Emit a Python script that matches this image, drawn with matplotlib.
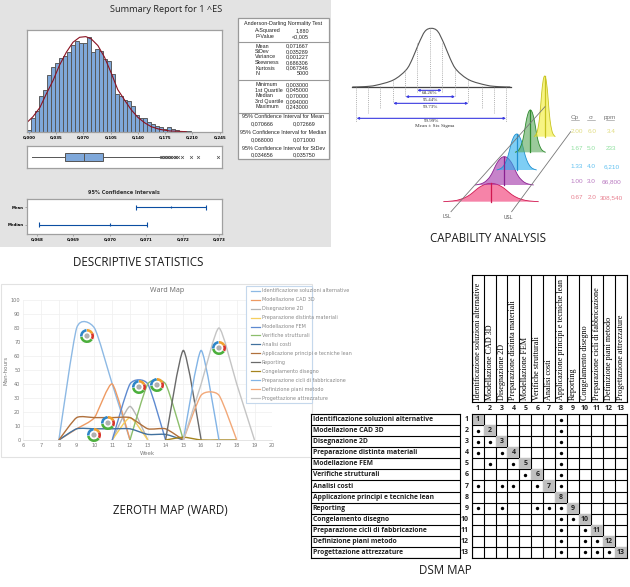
import matplotlib
matplotlib.use("Agg")
import matplotlib.pyplot as plt
import numpy as np
from matplotlib.patches import Rectangle, Wedge, Circle, PathPatch
from matplotlib.path import Path

W = 630
H = 587

# descriptive statistics
hist_counts = [4, 40, 62, 109, 127, 172, 195, 207, 223, 228, 242, 263, 275, 267, 267, 287,
               242, 250, 245, 220, 212, 173, 115, 107, 97, 92, 77, 50, 40, 40, 30, 22, 17,
               13, 7, 13, 7, 4, 3, 1, 3]
hist_bin = 0.00515
fit_x = [-0.003, 0.005, 0.014, 0.022, 0.031, 0.039, 0.048, 0.0565, 0.065, 0.073, 0.080, 0.0885,
         0.097, 0.106, 0.114, 0.123, 0.131, 0.140, 0.1485, 0.157, 0.168, 0.181, 0.202]
fit_y = [27, 45, 73, 113, 155, 200, 240, 270, 285, 287, 280, 260, 225, 175, 127, 95, 67, 43,
         27, 15, 7, 2, 0]
hist_ticks = [0.0, 0.035, 0.07, 0.105, 0.14, 0.175, 0.21, 0.245]
hist_labels = ["0,000", "0,035", "0,070", "0,105", "0,140", "0,175", "0,210", "0,245"]
box_outliers = [0.169, 0.171, 0.173, 0.175, 0.177, 0.179, 0.181, 0.183, 0.185, 0.187, 0.189,
                0.191, 0.197, 0.208, 0.217, 0.243]
ci_names = ["Mean", "Median"]
ci_low = [0.07073, 0.06805]
ci_mid = [0.07169, 0.07000]
ci_high = [0.07265, 0.07103]
ci_ticks = [0.068, 0.069, 0.070, 0.071, 0.072, 0.073]
ci_labels = ["0,068", "0,069", "0,070", "0,071", "0,072", "0,073"]
table_head = ["Anderson-Darling Normality Test"]
table_a = [("A-Squared", "1,880"), ("P-Value", "<0,005")]
table_b = [("Mean", "0,071667"), ("StDev", "0,035289"), ("Variance", "0,001227"),
           ("Skewness", "0,686306"), ("Kurtosis", "0,067346"), ("N", "5000")]
table_c = [("Minimum", "0,003000"), ("1st Quartile", "0,045000"), ("Median", "0,070000"),
           ("3rd Quartile", "0,094000"), ("Maximum", "0,243000")]
table_d = [("95% Confidence Interval for Mean", "0,070666", "0,072669"),
           ("95% Confidence Interval for Median", "0,068000", "0,071000"),
           ("95% Confidence Interval for StDev", "0,034656", "0,035750")]

# capability analysis
sigma_t = [-1.0, -0.85, -0.7, -0.48, -0.32, -0.24, -0.16, -0.08, 0.0, 0.08, 0.16, 0.24,
           0.32, 0.48, 0.7, 0.85, 1.0]
sigma_h = [0.0, 0.006, 0.03, 0.12, 0.29, 0.48, 0.74, 0.95, 1.0, 0.95, 0.74, 0.48, 0.29,
           0.12, 0.03, 0.006, 0.0]
bell_t = [-1.0, -0.8, -0.65, -0.5, -0.38, -0.28, -0.18, -0.09, 0.0, 0.09, 0.18, 0.28, 0.38,
          0.5, 0.65, 0.8, 1.0]
bell_h = [0.0, 0.04, 0.12, 0.28, 0.5, 0.72, 0.88, 0.97, 1.0, 0.97, 0.88, 0.72, 0.5, 0.28, 0.12,
          0.04, 0.0]
cap_centers = [438, 478, 515, 556, 599]
cap_half = [143, 88, 60, 46, 32]
cap_base = [575, 525, 480, 427, 380]
cap_top = [520, 440, 372, 300, 198]
cap_fill = ["#F0306E", "#A030A8", "#28AEEE", "#58A858", "#F2EE30"]
cap_line = ["#D01850", "#8A2090", "#2090D0", "#2E8A2E", "#C8C420"]
cap_text = ["#E88090", "#B878C0", "#60C0F0", "#90E0A0", "#E0DC80"]
cap_rows = [("0.67", "2.0", "308,540"), ("1.00", "3.0", "66,800"), ("1.33", "4.0", "6,210"),
            ("1.67", "5.0", "233"), ("2.00", "6.0", "3.4")]
cap_row_y = [563, 515, 469, 417, 365]
sigma_x = [34, 70, 106, 143, 180, 217, 254, 292, 330, 370, 410, 448, 483]
sigma_end = [335, 310, 295, 280, 262, 245, 231, 245, 262, 280, 295, 310, 335]
sigma_start = [231, 231, 229, 210, 180, 100, 55, 100, 180, 210, 229, 231, 231]
span_lo = [217, 182, 145, 35]
span_hi = [290, 330, 370, 483]
span_y = [241, 260, 280, 325]
span_text = ["68.26%", "95.44%", "99.73%", "99.99%"]
span_text_y = [250, 270, 290, 334]

# ward map
ward_names = ["Identificazione soluzioni alternative", "Modellazione CAD 3D", "Disegnazione 2D",
              "Preparazione distinta materiali", "Modellazione FEM", "Verifiche strutturali",
              "Analisi costi", "Applicazione principi e tecniche lean", "Reporting",
              "Congelamento disegno", "Preparazione cicli di fabbricazione",
              "Definizione piani metodo", "Progettazione attrezzature"]
ward_weeks = [[8, 9, 10, 11, 12], [8, 9, 10, 11, 12], [11, 12, 13], [11, 12, 13],
              [11, 12, 13, 14], [12, 13, 14, 15], [8, 9, 10, 11, 12, 13, 14, 15],
              [8, 9, 10, 11, 12, 13, 14, 15], [14, 15, 16], [14, 15, 16, 17, 18],
              [15, 16, 17], [15, 16, 17, 18], [15, 16, 17, 18, 19]]
ward_hours = [[0, 80, 80, 40, 0], [0, 8, 16, 40, 0], [0, 24, 0], [0, 16, 0],
              [0, 40, 40, 0], [0, 40, 40, 0], [0, 8, 8, 8, 8, 4, 4, 0],
              [0, 16, 16, 16, 16, 8, 8, 0], [0, 64, 0], [0, 2, 0, 0, 0],
              [0, 64, 0], [0, 32, 32, 0], [0, 40, 80, 40, 0]]
ward_colors = ["#8DB9E4", "#EE9A62", "#B4B4B4", "#F6CF5E", "#5E8AD0", "#8CBE6C", "#41719E",
               "#B0703C", "#6A6A6A", "#A5841E", "#82B4E6", "#F2A878", "#C4C4C4"]
icon_x = [87, 139, 157, 108, 94, 219]
icon_y = [336, 387, 385, 423, 435, 348]

# dsm
dsm_dots = [[8], [1, 8], [1, 2, 8], [1, 3, 8], [2, 4, 8], [5, 8], [1, 3, 4, 6, 8], [],
            [1, 3, 6, 7, 8], [8, 9], [8, 10], [8, 10, 11], [8, 10, 11, 12]]


def add_axes(x0, y0, x1, y1, **kw):
    return fig.add_axes([x0 / W, 1 - y1 / H, (x1 - x0) / W, (y1 - y0) / H], **kw)


def frame(ax, color="#A0A0A0", lw=0.9):
    for s in ax.spines.values():
        s.set_color(color)
        s.set_linewidth(lw)


def smooth_path(xs, ys, k=10):
    # same kind of smoothing excel puts on its lines
    pts = np.column_stack([xs, ys]).astype(float)
    verts = [pts[0]]
    codes = [Path.MOVETO]
    for i in range(len(pts) - 1):
        p0 = pts[max(i - 1, 0)]
        p1 = pts[i]
        p2 = pts[i + 1]
        p3 = pts[min(i + 2, len(pts) - 1)]
        verts += [p1 + (p2 - p0) / k, p2 - (p3 - p1) / k, p2]
        codes += [Path.CURVE4, Path.CURVE4, Path.CURVE4]
    return Path(verts, codes)


def cap_px(x, y):
    return 345 + np.asarray(x) / 3, 10 + np.asarray(y) / 3


fig = plt.figure(figsize=(W / 100, H / 100), dpi=100, facecolor="white")

canvas = add_axes(0, 0, W, H, zorder=0)
canvas.set_xlim(0, W)
canvas.set_ylim(H, 0)
canvas.axis("off")

overlay = add_axes(0, 0, W, H, zorder=10)
overlay.set_xlim(0, W)
overlay.set_ylim(H, 0)
overlay.axis("off")
overlay.patch.set_alpha(0)

caption_font = dict(family="Open Sans", fontsize=8.3, color="#1A1A1A", ha="center", va="center")

# --- descriptive statistics ---
canvas.add_patch(Rectangle((0, 0), 331, 247, fc="#E3E3E3", ec="none"))
canvas.text(166, 9, "Summary Report for 1 ^ES", family="Open Sans", fontsize=6.6, ha="center",
            va="center", color="#222222")
canvas.text(138, 262, "DESCRIPTIVE STATISTICS", **caption_font)

ax = add_axes(27, 30, 222, 132)
bins = np.arange(len(hist_counts)) * hist_bin
ax.bar(bins, hist_counts, width=hist_bin, color="#7FA8DA", edgecolor="#555555", linewidth=0.65)
ax.plot(fit_x, fit_y, color="#8B1020", lw=0.8)
ax.set_xlim(-0.0026, 0.248)
ax.set_ylim(-1, 307)
ax.set_yticks([])
ax.set_xticks(hist_ticks)
ax.set_xticklabels(hist_labels, fontsize=2.9, fontweight="bold")
ax.tick_params(axis="x", length=1.5, width=0.4, pad=1, color="#777777")
frame(ax)

ax = add_axes(27, 146, 222, 168)
stats = [dict(whislo=0.004, q1=0.046, med=0.0707, q3=0.0955, whishi=0.168, fliers=box_outliers)]
ax.bxp(stats, orientation="horizontal", widths=0.33, patch_artist=True, showcaps=False,
       boxprops=dict(facecolor="#7FA8DA", edgecolor="#555555", linewidth=0.7),
       medianprops=dict(color="#555555", linewidth=0.7),
       whiskerprops=dict(color="#555555", linewidth=0.7),
       flierprops=dict(marker="x", markersize=2, markeredgewidth=0.5, markeredgecolor="#555555"))
ax.set_xlim(-0.0026, 0.248)
ax.set_xticks([])
ax.set_yticks([])
frame(ax)

canvas.text(124, 193, "95% Confidence Intervals", fontsize=3.6, fontweight="bold", ha="center",
            va="center", color="#333333")
ax = add_axes(27, 199, 222, 234)
ci_pos = [1, 0]
ax.hlines(ci_pos, ci_low, ci_high, color="#0B4EA2", lw=0.8)
ax.vlines(ci_low + ci_high, [p - 0.14 for p in ci_pos] * 2, [p + 0.14 for p in ci_pos] * 2,
          color="#0B4EA2", lw=0.8)
ax.vlines(ci_mid, [p - 0.08 for p in ci_pos], [p + 0.08 for p in ci_pos], color="#0B4EA2", lw=0.8)
ax.set_xlim(0.06773, 0.07308)
ax.set_ylim(-0.51, 1.45)
ax.set_yticks(ci_pos)
ax.set_yticklabels(ci_names, fontsize=2.8, fontweight="bold")
ax.set_xticks(ci_ticks)
ax.set_xticklabels(ci_labels, fontsize=2.9, fontweight="bold")
ax.tick_params(length=1.5, width=0.4, pad=1, color="#777777")
frame(ax)

canvas.add_patch(Rectangle((238, 18), 91, 141, fc="white", ec="#999999", lw=0.9, zorder=2))
for y in [42, 80, 113]:
    canvas.plot([238, 329], [y, y], color="#999999", lw=0.8, zorder=3)
tbl_font = dict(family="Liberation Sans", fontsize=3.9, color="#222222", va="center", zorder=4)
canvas.text(283.5, 23.5, table_head[0], ha="center", **tbl_font)
y = 30.5
for name, val in table_a:
    canvas.text(255, y, name, ha="left", **tbl_font)
    canvas.text(309, y, val, ha="right", **tbl_font)
    y += 6
y = 46
for name, val in table_b:
    canvas.text(255, y, name, ha="left", **tbl_font)
    canvas.text(309, y, val, ha="right", **tbl_font)
    y += 5.5
y = 84.5
for name, val in table_c:
    canvas.text(255, y, name, ha="left", **tbl_font)
    canvas.text(309, y, val, ha="right", **tbl_font)
    y += 5.6
y = 117
for name, lo, hi in table_d:
    canvas.text(283.5, y, name, ha="center", **tbl_font)
    canvas.text(262, y + 7, lo, ha="center", **tbl_font)
    canvas.text(304, y + 7, hi, ha="center", **tbl_font)
    y += 15.5

# --- capability analysis ---
canvas.text(488, 239, "CAPABILITY ANALYSIS", **caption_font)

bx, by = cap_px(259 + np.array(sigma_t) * 237, 231 - np.array(sigma_h) * 176)
canvas.add_patch(PathPatch(smooth_path(bx, by, 6), fc="none", ec="#555555", lw=0.8))
gx, gy = cap_px([22, 497], [231, 231])
canvas.plot(gx, gy, color="#444444", lw=0.9)
for x, y0, y1 in zip(sigma_x, sigma_start, sigma_end):
    sx, sy = cap_px([x, x], [y0, y1])
    canvas.plot(sx, sy, color="#999999", lw=0.5, ls=(0, (1.5, 1.5)))
for lo, hi, y, txt, ty in zip(span_lo, span_hi, span_y, span_text, span_text_y):
    sx, sy = cap_px([lo, hi], [y, y])
    canvas.annotate("", xy=(sx[1], sy[1]), xytext=(sx[0], sy[0]),
                    arrowprops=dict(arrowstyle="<|-|>", color="#3A3AE0", lw=0.8, mutation_scale=3,
                                    shrinkA=0, shrinkB=0))
    tx, tyy = cap_px((lo + hi) / 2, ty)
    canvas.text(tx, tyy, txt, family="Liberation Serif", fontsize=3.6, ha="center", va="center",
                color="#333333")
tx, tyy = cap_px(268, 349)
canvas.text(tx, tyy, "Mean ± Six Sigma", family="Liberation Serif", fontsize=3.8, ha="center",
            va="center", color="#333333")

t = np.array(bell_t)
h = np.array(bell_h)
for cx, half, base, top, fill, line in zip(cap_centers, cap_half, cap_base, cap_top, cap_fill, cap_line):
    sx, sy = cap_px(cx + t * half, base - h * (base - top))
    canvas.add_patch(PathPatch(smooth_path(sx, sy, 6), fc=fill, ec="none", alpha=0.6))
    canvas.add_patch(PathPatch(smooth_path(sx, sy, 6), fc="none", ec=line, lw=0.6))
    sx, sy = cap_px([cx, cx], [base, top])
    canvas.plot(sx, sy, color=line, lw=0.9)

for x0, y0, x1, y1 in [(318, 605, 600, 290), (500, 605, 677, 365)]:
    sx, sy = cap_px([x0, x1], [y0, y1])
    canvas.plot(sx, sy, color="#777777", lw=0.6)
for x, y, txt in [(305, 620, "LSL"), (491, 622, "USL")]:
    sx, sy = cap_px(x, y)
    canvas.text(sx, sy, txt, fontsize=3.5, color="#555555", ha="center", va="center")
for x, txt in zip([690, 738, 795], ["Cp", "σ", "ppm"]):
    sx, sy = cap_px(x, 322)
    canvas.text(sx, sy, txt, family="Liberation Sans", fontsize=4.6, color="#777777", ha="center",
                va="center")
    lx, ly = cap_px([x - 12, x + 12], [330, 330])
    canvas.plot(lx, ly, color="#888888", lw=0.4)
for row, y, col in zip(cap_rows, cap_row_y, cap_text):
    for x, txt in zip([695, 740, 799], row):
        sx, sy = cap_px(x, y)
        canvas.text(sx, sy, txt, family="Liberation Sans", fontsize=4.6, color=col, ha="center",
                    va="center")

# --- ward map ---
canvas.add_patch(Rectangle((1, 284), 311, 173, fc="white", ec="#E2E2E2", lw=0.8))
canvas.text(167, 291, "Ward Map", family="Open Sans", fontsize=5, color="#666666", ha="center",
            va="center")
canvas.text(170, 510, "ZEROTH MAP (WARD)", **caption_font)

ax = add_axes(23.3, 300, 272.3, 440, zorder=1)
ax.patch.set_alpha(0)
for xs, ys, col in zip(ward_weeks, ward_hours, ward_colors):
    ax.add_patch(PathPatch(smooth_path(xs, ys), fc="none", ec=col, lw=1))
ax.set_xlim(6, 20)
ax.set_ylim(0, 100)
ax.set_xticks(range(6, 21))
ax.set_yticks(range(0, 101, 10))
ax.tick_params(length=0, labelsize=3.6, labelcolor="#777777", pad=2)
ax.grid(color="#EFEFEF", lw=0.5)
ax.set_axisbelow(True)
for s in ax.spines.values():
    s.set_visible(False)
ax.spines["bottom"].set_visible(True)
ax.spines["bottom"].set_color("#D9D9D9")
ax.spines["bottom"].set_linewidth(0.5)
ax.set_xlabel("Week", fontsize=4, color="#777777", labelpad=2)
ax.set_ylabel("Man-hours", fontsize=4, color="#777777", labelpad=2)

for ix, iy in zip(icon_x, icon_y):
    overlay.add_patch(Wedge((ix, iy), 7, 175, 265, width=2.6, fc="#2E86C8", ec="none"))
    overlay.add_patch(Wedge((ix, iy), 7, 270, 335, width=2.6, fc="#F0A030", ec="none"))
    overlay.add_patch(Wedge((ix, iy), 7, 335, 30, width=2.6, fc="#D8342A", ec="none"))
    overlay.add_patch(Wedge((ix, iy), 7, 35, 170, width=2.6, fc="#4CAF3C", ec="none"))
    overlay.add_patch(Circle((ix, iy), 3, fc="#B0B0B0", ec="white", lw=0.5))

overlay.add_patch(Rectangle((246, 286), 66, 117, fc="white", ec="#C5D8EC", lw=0.8, zorder=5))
for i, (name, col) in enumerate(zip(ward_names, ward_colors)):
    y = 290.7 + i * 8.95
    overlay.plot([251, 260], [y, y], color=col, lw=0.9, zorder=6)
    txt = overlay.text(262, y, name, fontsize=3.5, color="#888888", va="center", zorder=6)
    txt.set_clip_path(Rectangle((246, 286), 66, 117, transform=overlay.transData))

# --- dsm ---
n = len(ward_names)
canvas.text(445, 571, "DSM MAP", **caption_font)

ax = add_axes(471.7, 275, 626.7, 401.7)
ax.set_xlim(0, n)
ax.set_ylim(0, 1)
ax.set_xticks(range(n + 1))
ax.set_yticks([])
ax.tick_params(length=0, labelbottom=False)
ax.grid(axis="x", color="black", lw=0.8)
frame(ax, "black", 0.8)
for i, name in enumerate(ward_names):
    ax.text(i + 0.5, 0.015, name, rotation=90, family="Liberation Serif", fontsize=5.9, ha="center",
            va="bottom", color="black")

ax = add_axes(471.7, 414.3, 626.7, 557.7)
ax.set_xlim(0, n)
ax.set_ylim(n, 0)
num_font = dict(family="Open Sans", fontsize=5, fontweight="bold", va="center", color="#222222",
                clip_on=False)
for i in range(n):
    ax.add_patch(Rectangle((i, i), 1, 1, fc="#BFBFBF", ec="none"))
    ax.text(i + 0.5, i + 0.5, str(i + 1), ha="center", **num_font)
    ax.text(i + 0.5, -0.53, str(i + 1), ha="center", **num_font)
    ax.text(-0.27, i + 0.5, str(i + 1), ha="right", **num_font)
dot_x = [c - 0.5 for row in dsm_dots for c in row]
dot_y = [r + 0.5 for r, row in enumerate(dsm_dots) for c in row]
ax.scatter(dot_x, dot_y, s=6, color="black", linewidths=0)
ax.set_xticks(range(n + 1))
ax.set_yticks(range(n + 1))
ax.tick_params(length=0, labelbottom=False, labelleft=False)
ax.grid(color="black", lw=0.8)
ax.set_axisbelow(True)
frame(ax, "black", 0.8)

ax = add_axes(311, 414.3, 460, 557.7)
ax.set_xlim(0, 1)
ax.set_ylim(n, 0)
ax.set_xticks([])
ax.set_yticks(range(n + 1))
ax.tick_params(length=0, labelleft=False)
ax.grid(axis="y", color="black", lw=0.8)
frame(ax, "black", 0.8)
for i, name in enumerate(ward_names):
    ax.text(0.012, i + 0.5, name, fontsize=4.9, fontweight="bold", family="Open Sans", va="center",
            color="#222222")

fig.savefig("out.png", dpi=100)
